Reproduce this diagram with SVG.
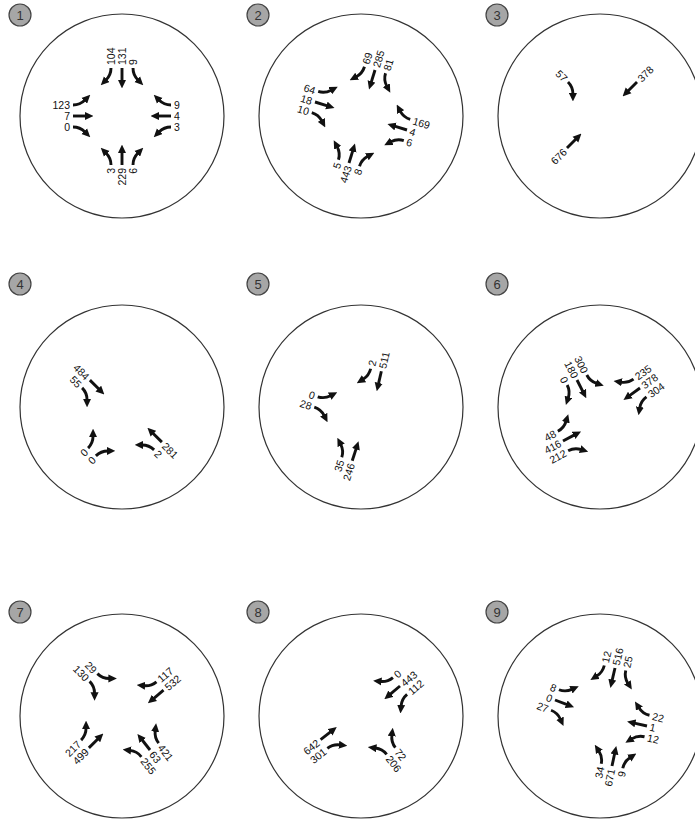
<svg xmlns="http://www.w3.org/2000/svg" xmlns:xlink="http://www.w3.org/1999/xlink" width="695" height="822" viewBox="0 0 695 822">
<style>
.ring{fill:#fff;stroke:#333;stroke-width:1.2}
.bd{fill:#a6a6a6;stroke:#444;stroke-width:1.2}
.bt{font-family:"Liberation Sans",Arial,sans-serif;font-size:13px;fill:#333;text-anchor:middle;dominant-baseline:central}
.ar{fill:none;stroke:#111;stroke-width:2.9;marker-end:url(#h)}
text.n,text.f{font-family:"Liberation Sans",Arial,sans-serif;font-size:10.5px;fill:#111;dominant-baseline:central}
.n{text-anchor:end}
.f{text-anchor:start}
</style>
<defs>
<marker id="h" viewBox="0 0 8 8" refX="1" refY="4" markerWidth="8.5" markerHeight="8.5" markerUnits="userSpaceOnUse" orient="auto"><path d="M0,0.2 L8,4 L0,7.8z" fill="#111"/></marker>
<path id="aT" class="ar" d="M0,0 V-13"/>
<path id="aL" class="ar" d="M0,0 C0,-6 -2,-9 -5,-12"/>
<path id="aR" class="ar" d="M0,0 C0,-6 2,-9 5,-12"/>
</defs>
<rect width="695" height="822" fill="#fff"/>
<g id="rings">
<circle class="ring" cx="122" cy="116" r="102"/><circle class="ring" cx="361" cy="116" r="102"/><circle class="ring" cx="600" cy="116" r="102"/>
<circle class="ring" cx="122" cy="407" r="102"/><circle class="ring" cx="361" cy="407" r="102"/><circle class="ring" cx="600" cy="407" r="102"/>
<circle class="ring" cx="122" cy="716" r="102"/><circle class="ring" cx="361" cy="716" r="102"/><circle class="ring" cx="600" cy="716" r="102"/>
</g>
<g id="badges">
<g id="b1"><circle class="bd" cx="20" cy="15" r="11"/><text class="bt" x="20" y="15">1</text></g>
<g id="b2"><circle class="bd" cx="258" cy="15" r="11"/><text class="bt" x="258" y="15">2</text></g>
<g id="b3"><circle class="bd" cx="497" cy="15" r="11"/><text class="bt" x="497" y="15">3</text></g>
<g id="b4"><circle class="bd" cx="20" cy="284" r="11"/><text class="bt" x="20" y="284">4</text></g>
<g id="b5"><circle class="bd" cx="258" cy="284" r="11"/><text class="bt" x="258" y="284">5</text></g>
<g id="b6"><circle class="bd" cx="497" cy="284" r="11"/><text class="bt" x="497" y="284">6</text></g>
<g id="b7"><circle class="bd" cx="20" cy="612" r="11"/><text class="bt" x="20" y="612">7</text></g>
<g id="b8"><circle class="bd" cx="258" cy="612" r="11"/><text class="bt" x="258" y="612">8</text></g>
<g id="b9"><circle class="bd" cx="497" cy="612" r="11"/><text class="bt" x="497" y="612">9</text></g>
</g>
<g id="c1">
<g transform="translate(122,165) rotate(0)"><use href="#aL" x="-11"/><use href="#aT"/><use href="#aR" x="11"/>
<text class="n" transform="translate(-11,3) rotate(-90)">3</text><text class="n" transform="translate(0,3) rotate(-90)">229</text><text class="n" transform="translate(11,3) rotate(-90)">6</text></g>
<g transform="translate(73,116) rotate(90)"><use href="#aL" x="-11"/><use href="#aT"/><use href="#aR" x="11"/>
<text class="n" transform="translate(-11,3) rotate(-90)">123</text><text class="n" transform="translate(0,3) rotate(-90)">7</text><text class="n" transform="translate(11,3) rotate(-90)">0</text></g>
<g transform="translate(122,68) rotate(180)"><use href="#aL" x="-11"/><use href="#aT"/><use href="#aR" x="11"/>
<text class="f" transform="translate(-11,3) rotate(90)">9</text><text class="f" transform="translate(0,3) rotate(90)">131</text><text class="f" transform="translate(11,3) rotate(90)">104</text></g>
<g transform="translate(171,116) rotate(-90)"><use href="#aL" x="-11"/><use href="#aT"/><use href="#aR" x="11"/>
<text class="f" transform="translate(-11,3) rotate(90)">3</text><text class="f" transform="translate(0,3) rotate(90)">4</text><text class="f" transform="translate(11,3) rotate(90)">9</text></g>
</g>
<g id="c2">
<g transform="translate(349,163) rotate(17)"><use href="#aL" x="-11"/><use href="#aT"/><use href="#aR" x="11"/>
<text class="n" transform="translate(-11,3) rotate(-90)">5</text><text class="n" transform="translate(0,3) rotate(-90)">443</text><text class="n" transform="translate(11,3) rotate(-90)">8</text></g>
<g transform="translate(315,102) rotate(107)"><use href="#aL" x="-11"/><use href="#aT"/><use href="#aR" x="11"/>
<text class="n" transform="translate(-11,3) rotate(-90)">64</text><text class="n" transform="translate(0,3) rotate(-90)">18</text><text class="n" transform="translate(11,3) rotate(-90)">10</text></g>
<g transform="translate(375,70) rotate(-163)"><use href="#aL" x="-11"/><use href="#aT"/><use href="#aR" x="11"/>
<text class="f" transform="translate(-11,3) rotate(90)">81</text><text class="f" transform="translate(0,3) rotate(90)">285</text><text class="f" transform="translate(11,3) rotate(90)">69</text></g>
<g transform="translate(407,130) rotate(-73)"><use href="#aL" x="-11"/><use href="#aT"/><use href="#aR" x="11"/>
<text class="f" transform="translate(-11,3) rotate(90)">6</text><text class="f" transform="translate(0,3) rotate(90)">4</text><text class="f" transform="translate(11,3) rotate(90)">169</text></g>
</g>
<g id="c3">
<g transform="translate(568,82) rotate(135)"><use href="#aR"/><text class="n" transform="translate(0,3) rotate(-90)">57</text></g>
<g transform="translate(637,82) rotate(-135)"><use href="#aT"/><text class="f" transform="translate(0,3) rotate(90)">378</text></g>
<g transform="translate(567,148) rotate(45)"><use href="#aT"/><text class="n" transform="translate(0,3) rotate(-90)">676</text></g>
</g>
<g id="c4">
<g transform="translate(86,384) rotate(135)"><use href="#aT" x="-5.5"/><use href="#aR" x="5.5"/>
<text class="n" transform="translate(-5.5,3) rotate(-90)">484</text><text class="n" transform="translate(5.5,3) rotate(-90)">55</text></g>
<g transform="translate(92,452) rotate(45)"><use href="#aL" x="-5.5"/><use href="#aR" x="5.5"/>
<text class="n" transform="translate(-5.5,3) rotate(-90)">0</text><text class="n" transform="translate(5.5,3) rotate(-90)">0</text></g>
<g transform="translate(158,446) rotate(-45)"><use href="#aL" x="-5.5"/><use href="#aT" x="5.5"/>
<text class="f" transform="translate(-5.5,3) rotate(90)">2</text><text class="f" transform="translate(5.5,3) rotate(90)">281</text></g>
</g>
<g id="c5">
<g transform="translate(376,370) rotate(-167)"><use href="#aT" x="-5.5"/><use href="#aR" x="5.5"/>
<text class="f" transform="translate(-5.5,3) rotate(90)">511</text><text class="f" transform="translate(5.5,3) rotate(90)">2</text></g>
<g transform="translate(316,402) rotate(108)"><use href="#aL" x="-5.5"/><use href="#aR" x="5.5"/>
<text class="n" transform="translate(-5.5,3) rotate(-90)">0</text><text class="n" transform="translate(5.5,3) rotate(-90)">28</text></g>
<g transform="translate(347,459) rotate(18)"><use href="#aL" x="-5.5"/><use href="#aT" x="5.5"/>
<text class="n" transform="translate(-5.5,3) rotate(-90)">35</text><text class="n" transform="translate(5.5,3) rotate(-90)">246</text></g>
</g>
<g id="c6">
<g transform="translate(577,380) rotate(153)"><use href="#aL" x="-11"/><use href="#aT"/><use href="#aR" x="11"/>
<text class="n" transform="translate(-11,3) rotate(-90)">300</text><text class="n" transform="translate(0,3) rotate(-90)">180</text><text class="n" transform="translate(11,3) rotate(-90)">0</text></g>
<g transform="translate(640,388) rotate(-126)"><use href="#aL" x="-11"/><use href="#aT"/><use href="#aR" x="11"/>
<text class="f" transform="translate(-11,3) rotate(90)">304</text><text class="f" transform="translate(0,3) rotate(90)">378</text><text class="f" transform="translate(11,3) rotate(90)">235</text></g>
<g transform="translate(563,441) rotate(62)"><use href="#aL" x="-11"/><use href="#aT"/><use href="#aR" x="11"/>
<text class="n" transform="translate(-11,3) rotate(-90)">48</text><text class="n" transform="translate(0,3) rotate(-90)">416</text><text class="n" transform="translate(11,3) rotate(-90)">212</text></g>
</g>
<g id="c7">
<g transform="translate(93.5,677.5) rotate(135)"><use href="#aL" x="-5.5"/><use href="#aR" x="5.5"/>
<text class="n" transform="translate(-5.5,3) rotate(-90)">29</text><text class="n" transform="translate(5.5,3) rotate(-90)">130</text></g>
<g transform="translate(160,686) rotate(-130)"><use href="#aT" x="-5.5"/><use href="#aR" x="5.5"/>
<text class="f" transform="translate(-5.5,3) rotate(90)">532</text><text class="f" transform="translate(5.5,3) rotate(90)">117</text></g>
<g transform="translate(85,744) rotate(45)"><use href="#aL" x="-5.5"/><use href="#aT" x="5.5"/>
<text class="n" transform="translate(-5.5,3) rotate(-90)">217</text><text class="n" transform="translate(5.5,3) rotate(-90)">499</text></g>
<g transform="translate(150,750) rotate(-38)"><use href="#aL" x="-11"/><use href="#aT"/><use href="#aR" x="11"/>
<text class="f" transform="translate(-11,3) rotate(90)">255</text><text class="f" transform="translate(0,3) rotate(90)">63</text><text class="f" transform="translate(11,3) rotate(90)">421</text></g>
</g>
<g id="c8">
<g transform="translate(400,686) rotate(-130)"><use href="#aL" x="-11"/><use href="#aT"/><use href="#aR" x="11"/>
<text class="f" transform="translate(-11,3) rotate(90)">112</text><text class="f" transform="translate(0,3) rotate(90)">443</text><text class="f" transform="translate(11,3) rotate(90)">0</text></g>
<g transform="translate(324,744) rotate(52)"><use href="#aT" x="-5.5"/><use href="#aR" x="5.5"/>
<text class="n" transform="translate(-5.5,3) rotate(-90)">642</text><text class="n" transform="translate(5.5,3) rotate(-90)">301</text></g>
<g transform="translate(391,751) rotate(-38)"><use href="#aL" x="-5.5"/><use href="#aR" x="5.5"/>
<text class="f" transform="translate(-5.5,3) rotate(90)">206</text><text class="f" transform="translate(5.5,3) rotate(90)">72</text></g>
</g>
<g id="c9">
<g transform="translate(615,668) rotate(-167)"><use href="#aL" x="-11"/><use href="#aT"/><use href="#aR" x="11"/>
<text class="f" transform="translate(-11,3) rotate(90)">25</text><text class="f" transform="translate(0,3) rotate(90)">516</text><text class="f" transform="translate(11,3) rotate(90)">12</text></g>
<g transform="translate(555,700) rotate(111)"><use href="#aL" x="-11"/><use href="#aT"/><use href="#aR" x="11"/>
<text class="n" transform="translate(-11,3) rotate(-90)">8</text><text class="n" transform="translate(0,3) rotate(-90)">0</text><text class="n" transform="translate(11,3) rotate(-90)">27</text></g>
<g transform="translate(647,726) rotate(-77)"><use href="#aL" x="-11"/><use href="#aT"/><use href="#aR" x="11"/>
<text class="f" transform="translate(-11,3) rotate(90)">12</text><text class="f" transform="translate(0,3) rotate(90)">1</text><text class="f" transform="translate(11,3) rotate(90)">22</text></g>
<g transform="translate(612,766) rotate(12)"><use href="#aL" x="-11"/><use href="#aT"/><use href="#aR" x="11"/>
<text class="n" transform="translate(-11,3) rotate(-90)">34</text><text class="n" transform="translate(0,3) rotate(-90)">671</text><text class="n" transform="translate(11,3) rotate(-90)">9</text></g>
</g>
</svg>
